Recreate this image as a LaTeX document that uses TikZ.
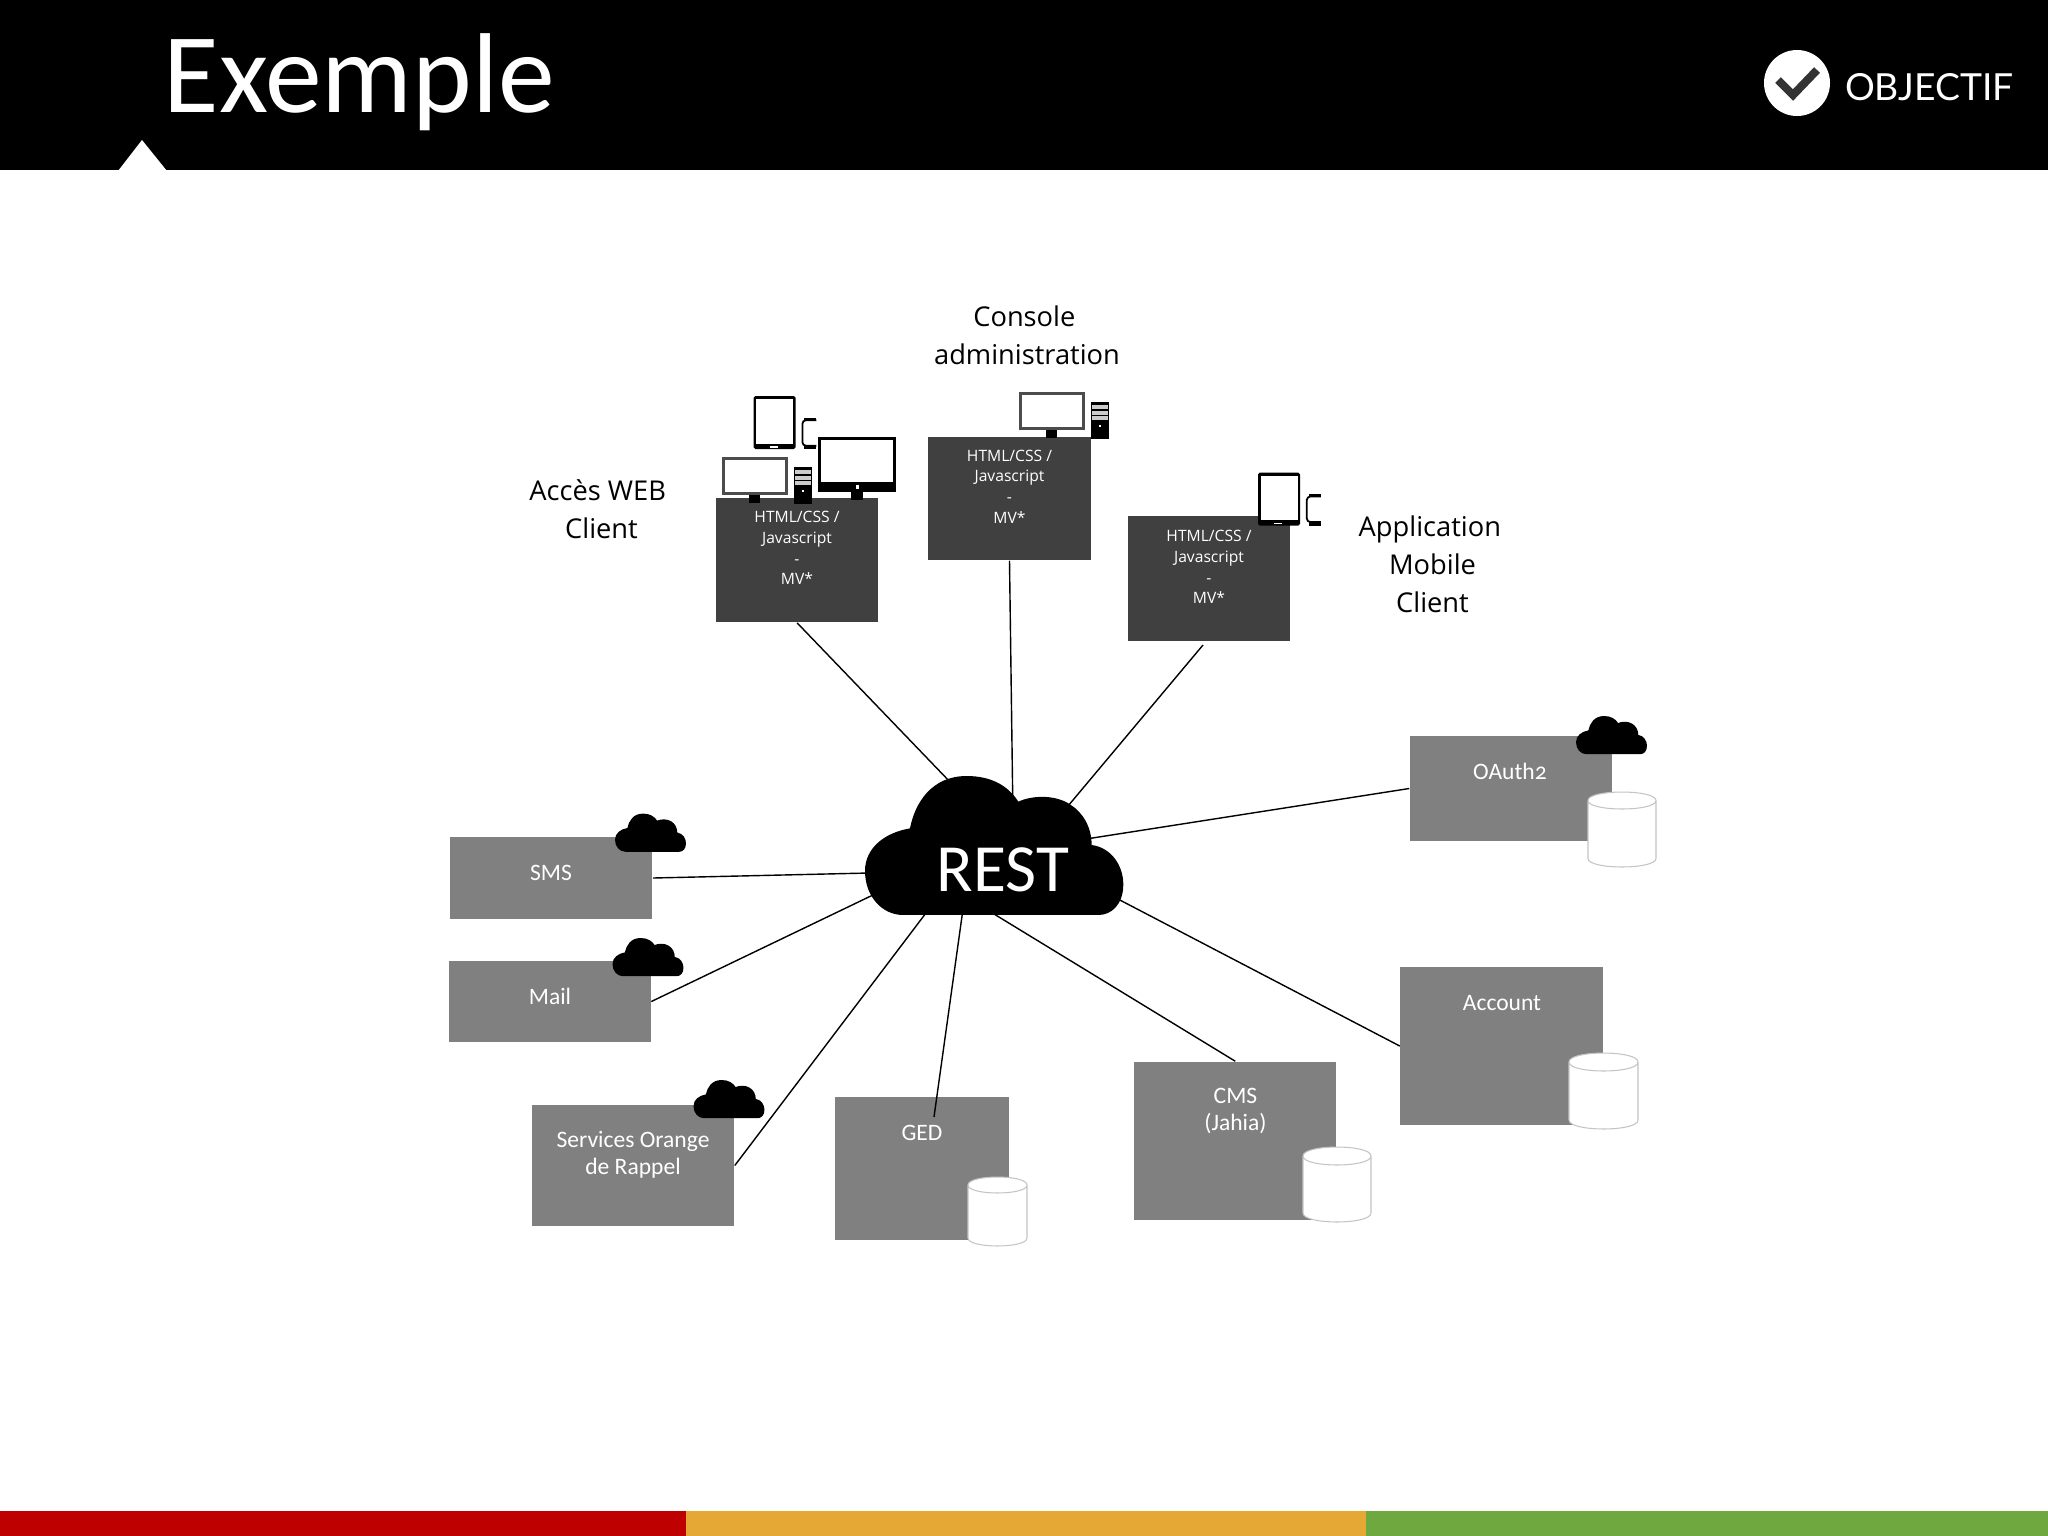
\documentclass[tikz,border=0pt]{standalone}
\usepackage{fontspec}
\setmainfont{Carlito}
\newfontfamily\labelfont{Open Sans}
\newfontfamily\logofont{Lato}
\newfontfamily\oldfig[Numbers=OldStyle]{Carlito}
\pgfdeclarelayer{front}
\pgfsetlayers{main,front}
\definecolor{darkbox}{HTML}{404040}
\definecolor{graybox}{HTML}{808080}
\definecolor{barred}{HTML}{BE0000}
\definecolor{barorange}{HTML}{E6A835}
\definecolor{bargreen}{HTML}{6EA83E}
\definecolor{cylline}{HTML}{C4C4C4}
\tikzset{
  x=0.01cm,y=-0.01cm,
  dbox/.style={fill=darkbox,inner sep=0pt},
  gbox/.style={fill=graybox,inner sep=0pt},
  boxtext/.style={text=white,align=center,inner sep=0pt,font=\labelfont\fontsize{4.45}{5.9}\selectfont},
  gtext/.style={text=white,align=center,inner sep=0pt,font=\fontsize{6.7}{7.7}\selectfont},
  sidelabel/.style={align=center,inner sep=0pt,font=\labelfont\fontsize{7.75}{10.75}\selectfont},
  conn/.style={line width=0.4pt,black},
  cloudshape/.pic={\fill[black] (115,417) .. controls (50,417) and (0,360) .. (0,285)
     .. controls (0,215) and (60,170) .. (135,157)
     .. controls (150,80) and (200,0) .. (305,0)
     .. controls (380,0) and (430,30) .. (460,77)
     .. controls (500,58) and (570,55) .. (615,85)
     .. controls (655,110) and (680,155) .. (680,207)
     .. controls (740,215) and (775,270) .. (775,325)
     .. controls (775,385) and (740,417) .. (700,417) -- cycle;},
  tabletshape/.pic={\fill[black,rounded corners=0.5pt] (0,0) rectangle (42,53);
     \fill[white] (2.5,3) rectangle (39.5,47.5);
     \fill[white] (16,50) rectangle (24,51.5);},
  phoneshape/.pic={\fill[black] (3,0) rectangle (15,2.5);
     \fill[black] (3,28) rectangle (15,31.5);
     \draw[black,line width=0.5pt,rounded corners=1pt] (15,2.5) -- (1,2.5) -- (1,28) -- (15,28);},
  bigmonitor/.pic={\fill[black] (0,0) rectangle (78,55);
     \fill[white] (3,3.5) rectangle (75,45);
     \fill[white] (38,48) rectangle (40.5,52);
     \fill[black] (33,55) rectangle (45,65);
     \fill[black!75] (22,63) rectangle (55,65.5);},
  greymonitor/.pic={\fill[black!70] (0,0) rectangle (65.5,38.5);
     \fill[white] (3,3) rectangle (62.5,35.5);
     \fill[black] (27,38.5) rectangle (38,47);
     \fill[black!75] (21,46) rectangle (45,48);},
  towershape/.pic={\fill[black] (0,0) rectangle (18.4,37);
     \fill[black!20] (1.5,3.5) rectangle (16.9,7.5);
     \fill[black!20] (1.5,9) rectangle (16.9,13);
     \fill[black!20] (1.5,14.5) rectangle (16.9,18);
     \fill[white] (8,23) rectangle (10,25.5);},
}
\begin{document}
\begin{tikzpicture}
\useasboundingbox (0,0) rectangle (2048,1536);
% header
\fill[black] (0,0) rectangle (2048,170);
\fill[white] (118,171) -- (142,140) -- (167,171) -- cycle;
\node[name=title,text=white,anchor=base west,inner sep=0pt,font=\fontsize{32.3}{36}\selectfont] at (163,112) {Exemple};
% logo
\fill[white] (1797,83) circle[radius=33];
\draw[black!80,line width=2.3pt] (1778,80) -- (1793,95) -- (1817,70);
\node[name=logo,text=white,inner sep=0pt,font=\logofont\fontsize{10.6}{12}\selectfont] at (1929.5,87.5) {OBJECTIF};
% footer bars
\fill[barred] (0,1511) rectangle (686,1536);
\fill[barorange] (686,1511) rectangle (1366,1536);
\fill[bargreen] (1366,1511) rectangle (2048,1536);
% dark boxes
\node[dbox,name=boxa,minimum width=1.62cm,minimum height=1.24cm] at (797,560) {};
\node[dbox,name=boxb,minimum width=1.62cm,minimum height=1.23cm] at (1009.5,498.5) {};
\node[dbox,name=boxc,minimum width=1.62cm,minimum height=1.24cm] at (1209,578.5) {};
\node[boxtext,name=boxatext,anchor=north] at (797,510.5) {HTML/CSS /\\Javascript\\-\\MV*};
\node[boxtext,name=boxbtext,anchor=north] at (1009.5,449) {HTML/CSS /\\Javascript\\-\\MV*};
\node[boxtext,name=boxctext,anchor=north] at (1209,529.5) {HTML/CSS /\\Javascript\\-\\MV*};
% gray boxes
\node[gbox,name=sms,minimum width=2.02cm,minimum height=0.82cm] at (551.3,878) {};
\node[gbox,name=mail,minimum width=2.02cm,minimum height=0.81cm] at (549.6,1001.5) {};
\node[gbox,name=services,minimum width=2.02cm,minimum height=1.21cm] at (633,1165.5) {};
\node[gbox,name=ged,minimum width=1.74cm,minimum height=1.43cm] at (921.7,1168.5) {};
\node[gbox,name=cms,minimum width=2.02cm,minimum height=1.58cm] at (1235.3,1141) {};
\node[gbox,name=account,minimum width=2.02cm,minimum height=1.58cm] at (1501.5,1046) {};
\node[gbox,name=oauth,minimum width=2.02cm,minimum height=1.05cm] at (1511,788.5) {};
\node[gtext,name=smstext] at (551,873) {SMS};
\node[gtext,name=mailtext] at (550,996.5) {Mail};
\node[gtext,name=servicestext] at (633,1154.5) {Services Orange\\de Rappel};
\node[gtext,name=gedtext] at (922,1133) {GED};
\node[gtext,name=cmstext] at (1235.5,1111) {CMS\\(Jahia)};
\node[gtext,name=accounttext] at (1502,1003.5) {Account};
\node[gtext,name=oauthtext] at (1510,771) {{\oldfig OAuth2}};
% REST node and cloud on front layer
\begin{pgfonlayer}{front}
\pic[scale=0.3333] at (865,776) {cloudshape};
\node[name=rest,text=white,inner sep=0pt,font=\fontsize{19.2}{20}\selectfont] at (1003,870) {REST};
\end{pgfonlayer}
% connector ends
\coordinate (ca) at (952,784);
\coordinate (cb) at (1012.7,797);
\coordinate (cc) at (1068,806);
\coordinate (cd) at (1086,839);
\coordinate (ce) at (1116,898);
\coordinate (cf) at (985,908.5);
\coordinate (cg) at (963,909);
\coordinate (ch) at (929,909);
\coordinate (ci) at (875,894);
\coordinate (cj) at (869,873);
\coordinate (boxcfree) at (1203,645);
\coordinate (gedfree) at (934,1117);
\draw[conn] (boxa.south) -- (ca);
\draw[conn] (boxb.south) -- (cb);
\draw[conn] (boxcfree) -- (cc);
\draw[conn] (oauth.west) -- (cd);
\draw[conn] (account.west) -- (ce);
\draw[conn] (cms.north) -- (cf);
\draw[conn] (gedfree) -- (cg);
\draw[conn] (services.east) -- (ch);
\draw[conn] (mail.east) -- (ci);
\draw[conn] (sms.east) -- (cj);
% small clouds
\pic[scale=0.0916] at (615,813.6) {cloudshape};
\pic[scale=0.0916] at (612.5,938) {cloudshape};
\pic[scale=0.0916] at (693.5,1080) {cloudshape};
\pic[scale=0.0916] at (1576,716) {cloudshape};
% cylinders
\foreach \cx/\cy/\crx/\cry/\ch in {1588/792/34/8.5/75,1569/1053/34.5/9/76,1303/1147/34/9/75,968/1177/29.5/8/69}{
  \draw[cylline,fill=white,line width=0.3pt] (\cx,\cy+\cry) -- (\cx,\cy+\ch-\cry)
     .. controls (\cx,\cy+\ch+\cry*0.33) and (\cx+2*\crx,\cy+\ch+\cry*0.33) .. (\cx+2*\crx,\cy+\ch-\cry)
     -- (\cx+2*\crx,\cy+\cry)
     .. controls (\cx+2*\crx,\cy-\cry*0.33) and (\cx,\cy-\cry*0.33) .. (\cx,\cy+\cry)
     .. controls (\cx,\cy+\cry*2.33) and (\cx+2*\crx,\cy+\cry*2.33) .. (\cx+2*\crx,\cy+\cry);
}
% devices
\pic at (753.7,396) {tabletshape};
\pic at (801.4,417.7) {phoneshape};
\pic at (818,436.7) {bigmonitor};
\pic at (722,456.7) {greymonitor};
\pic at (793.6,466.7) {towershape};
\pic at (1019,391.7) {greymonitor};
\pic at (1090.7,401.7) {towershape};
\pic at (1258,472.7) {tabletshape};
\pic at (1305.8,494) {phoneshape};
% side labels
\node[sidelabel,name=console] at (1027,335.5) {Console\kern1.5pt\\administration};
\node[sidelabel,name=acces] at (601.5,509.5) {Accès WEB\kern2.2pt\\Client};
\node[sidelabel,name=appli] at (1432.5,564) {Application\kern1.5pt\\Mobile\\Client};
\end{tikzpicture}
\end{document}
